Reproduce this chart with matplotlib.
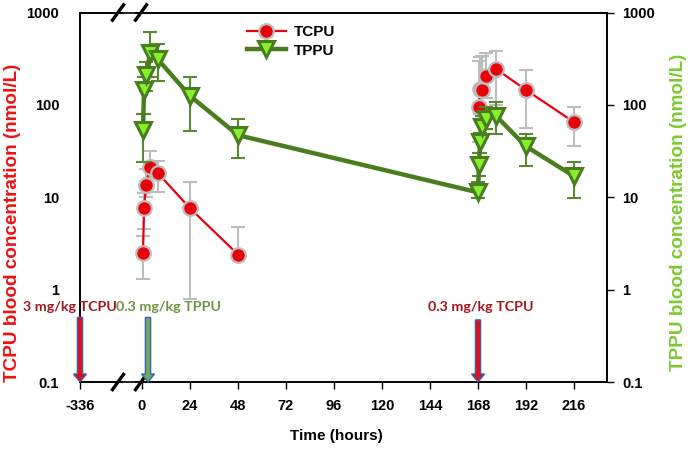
import matplotlib
matplotlib.use("Agg")
import matplotlib.pyplot as plt
from matplotlib.patches import Polygon
from matplotlib.transforms import IdentityTransform
import numpy as np

# ---------------- data ----------------
tick_hours = [-336, 0, 24, 48, 72, 96, 120, 144, 168, 192, 216]
tick_labels = ["-336", "0", "24", "48", "72", "96", "120", "144", "168", "192", "216"]
y_ticks = [0.1, 1, 10, 100, 1000]
y_tick_labels = ["0.1", "1", "10", "100", "1000"]

# TCPU first phase (after 3 mg/kg at -336 h, shown on the 0-48 h scale)
tcpu1_t = [0.5, 1, 2, 4, 8, 24, 48]
tcpu1_mean = [2.5, 7.6, 13.5, 21.5, 18.2, 7.6, 2.4]
tcpu1_hi = [3.8, 11.0, 20.0, 31.6, 24.7, 14.6, 4.8]
tcpu1_lo = [1.3, 4.5, 10.0, 16.0, 11.3, 0.8, 2.3]

# TCPU second phase (after 0.3 mg/kg at 168 h)
tcpu2_t = [168.5, 169, 170, 172, 177, 192, 216]
tcpu2_mean = [95, 150, 145, 205, 245, 145, 65]
tcpu2_hi = [300, 330, 340, 360, 386, 240, 95]
tcpu2_lo = [40, 80, 70, 120, 100, 56, 36]

# TPPU (after 0.3 mg/kg at 0 h)
tppu_t = [0.5, 1, 2, 4, 8, 24, 48, 168, 168.5, 169, 170, 172, 177, 192, 216]
tppu_mean = [53, 145, 210, 360, 310, 125, 47, 11.3, 22.5, 39.6, 57, 70, 76, 35.5, 16.9]
tppu_hi = [80, 200, 293, 620, 460, 200, 70, 14.5, 30, 50, 75, 95, 107, 48, 24]
tppu_lo = [24, 80, 140, 200, 182, 52, 26.5, 9.8, 17, 30, 45, 55, 48, 21.7, 9.8]

dose_labels = ["3 mg/kg TCPU", "0.3 mg/kg TPPU", "0.3 mg/kg TCPU"]
dose_hours = [-336, 0, 168]

# broken axis: -336 h is drawn at a compressed position
BREAK_POS = -31.0
def pos(t):
    t = np.asarray(t, dtype=float)
    return np.where(t <= -300, BREAK_POS, t)

def yerr(mean, lo, hi):
    m = np.asarray(mean, float)
    return [m - np.asarray(lo, float), np.asarray(hi, float) - m]

# ---------------- styles ----------------
RED = "#e8000b"
GREY = "#bdbdbd"
DGREEN = "#4a7d1f"
LGREEN = "#86f02a"
EBGREEN = "#5a8a30"
TXT = "Liberation Sans"

fig = plt.figure(figsize=(6.9, 4.49), dpi=100)
ax = fig.add_axes([80/690, 1-382/449, 527/690, (382-12.5)/449])

ax.set_yscale("log")
ax.set_ylim(0.1, 1000)
ax.set_xlim(BREAK_POS, 232.5)

# TCPU
for t, m, lo, hi in [(tcpu1_t, tcpu1_mean, tcpu1_lo, tcpu1_hi),
                     (tcpu2_t, tcpu2_mean, tcpu2_lo, tcpu2_hi)]:
    ax.errorbar(pos(t), m, yerr=yerr(m, lo, hi), fmt="none", ecolor=GREY,
                elinewidth=1.5, capsize=5, capthick=1.5, zorder=2)
    ax.plot(pos(t), m, "-", color=RED, lw=1.6, zorder=3)
    ax.plot(pos(t), m, "o", ms=10.5, mfc=RED, mec=GREY, mew=1.6, zorder=4)

# TPPU
ax.errorbar(pos(tppu_t), tppu_mean, yerr=yerr(tppu_mean, tppu_lo, tppu_hi),
            fmt="none", ecolor=EBGREEN, elinewidth=1.5, capsize=5, capthick=1.5, zorder=5)
ax.plot(pos(tppu_t), tppu_mean, "-", color=DGREEN, lw=3.2, zorder=6)
ax.plot(pos(tppu_t), tppu_mean, "v", ms=11, mfc=LGREEN, mec=DGREEN, mew=2.2, zorder=7)

# legend
h1, = ax.plot([], [], "-o", color=RED, lw=1.6, ms=10.5, mfc=RED, mec=GREY, mew=1.6)
h2, = ax.plot([], [], "-v", color=DGREEN, lw=3.2, ms=11, mfc=LGREEN, mec=DGREEN, mew=2.2)
ax.legend([h1, h2], ["TCPU", "TPPU"], loc="upper left", bbox_to_anchor=(0.29, 1.003),
          frameon=False, handlelength=2.6, handletextpad=0.5, labelspacing=0.3,
          prop={"family": TXT, "weight": "bold", "size": 11})

# dose arrows + labels (arrow shape in pixels, anchored at data positions)
arrow_pos = [BREAK_POS, 3.0, 168.0]
arrow_fc = ["#e0101a", "#6aab5c", "#e0101a"]
arrow_top = [0.5, 0.5, 0.47]
lab_col = ["#a3151d", "#6b9440", "#a3151d"]
lab_x = [70, 168, 481]
for i in range(3):
    xp, y_tip = ax.transData.transform((arrow_pos[i], 0.1))
    _, y_top = ax.transData.transform((arrow_pos[i], arrow_top[i]))
    sw, hw, hl = 2.6, 6.5, 8.0
    verts = [(xp - sw, y_top), (xp + sw, y_top), (xp + sw, y_tip + hl),
             (xp + hw, y_tip + hl), (xp, y_tip), (xp - hw, y_tip + hl),
             (xp - sw, y_tip + hl)]
    fig.patches.append(Polygon(verts, closed=True, fc=arrow_fc[i], ec="#3d5fb0",
                               lw=1.0, transform=IdentityTransform(), zorder=8,
                               figure=fig))
    fig.text(lab_x[i]/690, 1-307/449, dose_labels[i], color=lab_col[i],
             ha="center", va="center", fontsize=10.3, fontweight="bold", family="Lato")

# axes & ticks
ax.set_xticks(pos(tick_hours))
ax.set_xticklabels(tick_labels)
ax.set_yticks(y_ticks)
ax.set_yticklabels(y_tick_labels)
ax.minorticks_off()
ax.tick_params(axis="x", direction="out", length=5, width=1, pad=7)
ax.tick_params(axis="y", length=0, pad=15)
for lab in ax.get_xticklabels() + ax.get_yticklabels():
    lab.set_fontfamily(TXT); lab.set_fontweight("bold"); lab.set_fontsize(10.5)

ax2 = ax.twinx()
ax2.set_yscale("log")
ax2.set_ylim(0.1, 1000)
ax2.set_yticks(y_ticks)
ax2.set_yticklabels(y_tick_labels)
ax2.minorticks_off()
ax2.tick_params(axis="y", direction="out", length=5, width=1, pad=6)
for lab in ax2.get_yticklabels():
    lab.set_fontfamily(TXT); lab.set_fontweight("bold"); lab.set_fontsize(10.5)

for a in (ax, ax2):
    for s in a.spines.values():
        s.set_linewidth(1.2)

ax.set_xlabel("Time (hours)", family=TXT, fontweight="bold", fontsize=11)
ax.xaxis.set_label_coords((336-80)/527, (382-429)/369.5)
ax.set_ylabel("TCPU blood concentration (nmol/L)", color="#f01010",
              family=TXT, fontweight="bold", fontsize=13.6)
ax.yaxis.set_label_coords((21-80)/527, (382-223)/369.5)
ax2.set_ylabel("TPPU blood concentration (nmol/L)", color="#7cc832",
               family=TXT, fontweight="bold", fontsize=13.6)
ax2.yaxis.set_label_coords((670-80)/527, (382-212)/369.5)

# axis break marks (top and bottom)
def fx(px):
    return (px-80)/527
for yb in (0.0, 1.0):
    ax.add_patch(plt.Rectangle((fx(123), yb-0.01), fx(135)-fx(123), 0.02,
                               transform=ax.transAxes, fc="white", ec="none",
                               clip_on=False, zorder=20))
    for cx in (118, 141):
        dx, dy = 6.5/527, 9/369.5
        ax.plot([fx(cx)-dx, fx(cx)+dx], [yb-dy, yb+dy], color="black", lw=2.4,
                transform=ax.transAxes, clip_on=False, zorder=21,
                solid_capstyle="butt")

fig.savefig("out.png", dpi=100)
